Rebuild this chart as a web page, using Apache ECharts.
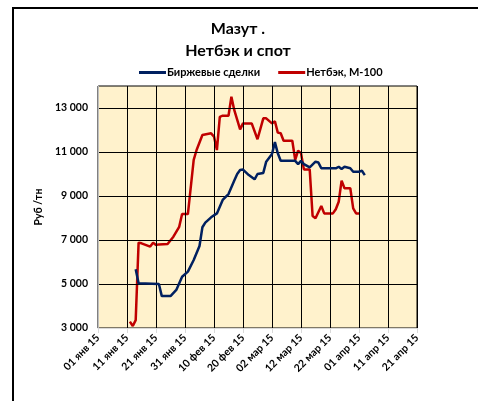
<!DOCTYPE html>
<html>
<head>
<meta charset="utf-8">
<script src="https://cdn.jsdelivr.net/npm/echarts@6/dist/echarts.min.js"></script>
<style>
  html, body { margin: 0; padding: 0; background: #fff; }
  #chart { width: 478px; height: 401px; }
</style>
</head>
<body>
<div id="chart"></div>
<script>
// Мазут: биржевые сделки и нетбэк М-100, руб/тн
var monthNames = ['янв', 'фев', 'мар', 'апр']
var yLabels = [3000, 5000, 7000, 9000, 11000, 13000]

var birzhaDates = [
  '2015-01-14', '2015-01-15', '2015-01-22', '2015-01-23', '2015-01-26', '2015-01-28',
  '2015-01-30', '2015-02-01', '2015-02-03', '2015-02-05', '2015-02-06', '2015-02-07',
  '2015-02-09', '2015-02-11', '2015-02-13', '2015-02-15', '2015-02-17', '2015-02-18',
  '2015-02-19', '2015-02-20', '2015-02-22', '2015-02-24', '2015-02-25', '2015-02-27',
  '2015-02-28', '2015-03-02', '2015-03-03', '2015-03-04', '2015-03-05', '2015-03-10',
  '2015-03-11', '2015-03-12', '2015-03-13', '2015-03-15', '2015-03-17', '2015-03-18',
  '2015-03-19', '2015-03-24', '2015-03-25', '2015-03-26', '2015-03-27', '2015-03-29',
  '2015-03-30', '2015-04-01', '2015-04-02', '2015-04-03'
]
var birzhaValues = [
  5670, 5030, 5000, 4450, 4450, 4730,
  5330, 5560, 6090, 6730, 7580, 7790,
  8030, 8210, 8820, 9090, 9700, 10000,
  10180, 10200, 9950, 9760, 10000, 10050,
  10560, 10910, 11450, 10940, 10600, 10600,
  10450, 10600, 10450, 10300, 10560, 10520,
  10260, 10260, 10330, 10230, 10330, 10260,
  10100, 10100, 10150, 9950
]

var netbackDates = [
  '2015-01-12', '2015-01-13', '2015-01-14', '2015-01-15', '2015-01-16', '2015-01-19',
  '2015-01-20', '2015-01-21', '2015-01-22', '2015-01-25', '2015-01-27', '2015-01-29',
  '2015-01-30', '2015-02-01', '2015-02-03', '2015-02-04', '2015-02-06', '2015-02-09',
  '2015-02-10', '2015-02-11', '2015-02-12', '2015-02-13', '2015-02-15', '2015-02-16',
  '2015-02-17', '2015-02-19', '2015-02-20', '2015-02-23', '2015-02-25', '2015-02-27',
  '2015-02-28', '2015-03-02', '2015-03-03', '2015-03-04', '2015-03-05', '2015-03-06',
  '2015-03-09', '2015-03-10', '2015-03-11', '2015-03-12', '2015-03-13', '2015-03-15',
  '2015-03-16', '2015-03-17', '2015-03-19', '2015-03-20', '2015-03-23', '2015-03-24',
  '2015-03-25', '2015-03-26', '2015-03-27', '2015-03-29', '2015-03-30', '2015-03-31',
  '2015-04-01'
]
var netbackValues = [
  3290, 3090, 3360, 6880, 6850, 6700,
  6880, 6770, 6800, 6820, 7150, 7600,
  8180, 8180, 10640, 11090, 11770, 11850,
  11700, 11090, 12600, 12650, 12650, 13510,
  12900, 12030, 12300, 12300, 11580, 12530,
  12530, 12300, 12400, 11880, 11850, 11510,
  11510, 10640, 11060, 10950, 10210, 10210,
  8090, 7990, 8545, 8210, 8210, 8400,
  8740, 9700, 9350, 9350, 8440, 8210,
  8210
]

var start = Date.UTC(2015, 0, 1)
var DAY = 86400000

// дата -> номер дня от 01.01.2015
function dayNum (s) {
  var p = s.split('-')
  return (Date.UTC(+p[0], +p[1] - 1, +p[2]) - start) / DAY
}
function toPairs (dates, values) {
  var res = []
  for (var i = 0; i < dates.length; i++) {
    res.push([dayNum(dates[i]), values[i]])
  }
  return res
}
function dayLabel (v) {
  var d = new Date(start + v * DAY)
  var dd = d.getUTCDate()
  return (dd < 10 ? '0' + dd : dd) + ' ' + monthNames[d.getUTCMonth()] + ' 15'
}

var font = 'Lato, "Open Sans", sans-serif'
var chart = echarts.init(document.getElementById('chart'))

chart.setOption({
  backgroundColor: '#fff',
  animation: false,
  graphic: [{
    type: 'rect',
    shape: { x: 13, y: 8, width: 470, height: 410 },
    style: { fill: 'none', stroke: '#000', lineWidth: 2 },
    silent: true
  }],
  title: {
    text: 'Мазут .\nНетбэк и спот',
    left: 233,
    textAlign: 'center',
    top: 13,
    textStyle: {
      fontFamily: font,
      fontSize: 16,
      fontWeight: 'bold',
      color: '#000',
      lineHeight: 22
    }
  },
  legend: {
    top: 62,
    left: 134,
    icon: 'rect',
    itemWidth: 27,
    itemHeight: 3,
    itemGap: 18,
    textStyle: { fontFamily: font, fontSize: 11, fontWeight: 'bold', color: '#000', padding: [0, 0, 0, -4] },
    data: ['Биржевые сделки', 'Нетбэк, М-100']
  },
  grid: {
    left: 98,
    right: 61,
    top: 86,
    bottom: 73,
    show: true,
    backgroundColor: '#FFF2CC',
    borderColor: '#000',
    borderWidth: 1
  },
  xAxis: {
    type: 'value',
    min: 0,
    max: 110,
    interval: 10,
    z: 3,
    axisLine: { show: true, lineStyle: { color: '#D9D9D9' } },
    axisTick: { show: true, length: 5, lineStyle: { color: '#D9D9D9' } },
    splitLine: { show: true, lineStyle: { color: '#000', width: 1 } },
    axisLabel: {
      rotate: 45,
      margin: 8,
      fontFamily: font,
      fontSize: 10.5,
      fontWeight: 'bold',
      color: '#000',
      formatter: dayLabel
    }
  },
  yAxis: {
    type: 'value',
    min: 3000,
    max: 14000,
    interval: 1000,
    z: 3,
    name: 'Руб /тн',
    nameLocation: 'middle',
    nameGap: 42,
    nameTextStyle: { fontFamily: font, fontSize: 10.5, fontWeight: 'bold', color: '#000' },
    axisLine: { show: true, lineStyle: { color: '#BFBFBF' } },
    axisTick: { show: false },
    splitLine: { show: true, lineStyle: { color: ['#000', 'transparent'], width: 1 } },
    axisLabel: {
      margin: 10,
      fontFamily: font,
      fontSize: 10.5,
      fontWeight: 'bold',
      color: '#000',
      formatter: function (v) {
        if (yLabels.indexOf(v) < 0) return ''
        return String(v).replace(/\B(?=(\d{3})+(?!\d))/g, ' ')
      }
    }
  },
  series: [
    {
      name: 'Биржевые сделки',
      type: 'line',
      data: toPairs(birzhaDates, birzhaValues),
      showSymbol: false,
      color: '#002060',
      lineStyle: { width: 2.5, color: '#002060' },
      z: 3
    },
    {
      name: 'Нетбэк, М-100',
      type: 'line',
      data: toPairs(netbackDates, netbackValues),
      showSymbol: false,
      color: '#C00000',
      lineStyle: { width: 2.5, color: '#C00000' },
      z: 2
    }
  ]
})
</script>
</body>
</html>
